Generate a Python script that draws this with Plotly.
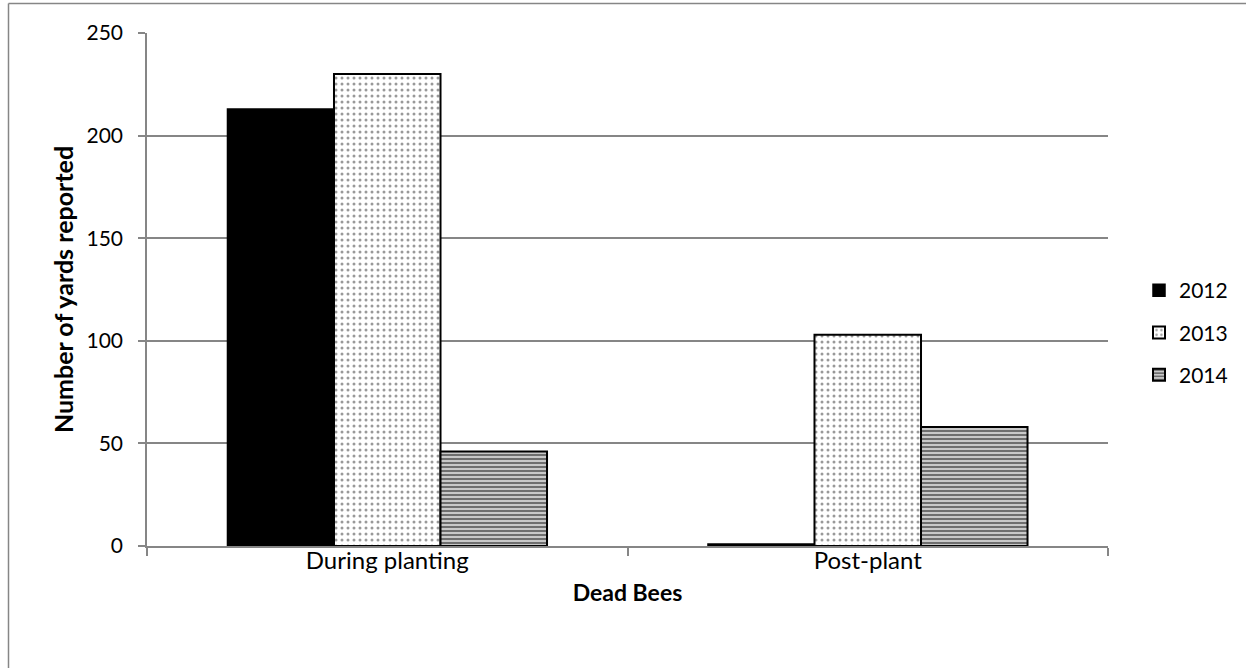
import plotly.graph_objects as go

categories = ["During planting", "Post-plant"]
years = ["2012", "2013", "2014"]
values_2012 = [213, 1]
values_2013 = [230, 103]
values_2014 = [46, 58]
y_ticks = [0, 50, 100, 150, 200, 250]

FONT = "Lato"
GRID = "#868686"

W, H = 1246, 668
ML, MR, MT, MB = 147, 138, 33, 122

fig = go.Figure()
fig.add_trace(go.Bar(
    name=years[0], x=categories, y=values_2012, legendgroup="a",
    marker=dict(color="black", line=dict(color="black", width=1.5)),
))
fig.add_trace(go.Bar(
    name=years[1], x=categories, y=values_2013, legendgroup="b",
    marker=dict(color="white", line=dict(color="black", width=2),
                pattern=dict(shape=".", fgcolor="#333333", bgcolor="white",
                             size=6, solidity=0.2)),
))
fig.add_trace(go.Bar(
    name=years[2], x=categories, y=values_2014, legendgroup="c",
    marker=dict(color="#b0b0b0", line=dict(color="black", width=2),
                pattern=dict(shape="-", fgcolor="black", bgcolor="#c8c8c8",
                             size=4, solidity=0.45)),
))

pw = W - ML - MR
ph = H - MT - MB
def px2paper_x(px):
    return (px - ML) / pw
def px2paper_y(py):
    return (H - MB - py) / ph

# outer chart-area frame (left and top edges visible)
fig.add_shape(type="line", xref="paper", yref="paper",
              x0=px2paper_x(8.5), x1=px2paper_x(8.5), y0=px2paper_y(700), y1=px2paper_y(3.5),
              line=dict(color=GRID, width=1.5))
fig.add_shape(type="line", xref="paper", yref="paper",
              x0=px2paper_x(8.5), x1=px2paper_x(1300), y0=px2paper_y(3.5), y1=px2paper_y(3.5),
              line=dict(color=GRID, width=1.5))

fig.update_layout(
    width=W, height=H,
    margin=dict(l=ML, r=MR, t=MT, b=MB, autoexpand=False),
    paper_bgcolor="white", plot_bgcolor="white",
    barmode="group", bargap=0.335, bargroupgap=0,
    font=dict(family=FONT, size=21, color="black"),
    showlegend=True,
    legend=dict(x=px2paper_x(1139), y=px2paper_y(270), xanchor="left", yanchor="top",
                font=dict(size=21), tracegroupgap=12, itemwidth=30),
    xaxis=dict(
        type="category", showline=True, linecolor=GRID, linewidth=1.5,
        ticks="outside", tickson="boundaries", ticklen=8, tickcolor=GRID, tickwidth=1.5,
        title=dict(text="<b>Dead Bees</b>", font=dict(size=23), standoff=12),
        tickfont=dict(size=24), showgrid=False, ticklabelstandoff=-8,
    ),
    yaxis=dict(
        range=[0, 250], tickvals=y_ticks, showline=True, linecolor=GRID, linewidth=1.5,
        ticks="outside", ticklen=7, tickcolor=GRID, tickwidth=1.5,
        showgrid=True, gridcolor=GRID, gridwidth=1.5, zeroline=False,
        title=dict(text="<b>Number of yards reported</b>", font=dict(size=25), standoff=6),
        tickfont=dict(size=21), ticklabelstandoff=11,
    ),
)

fig.write_html("out.html", config={"displayModeBar": False},
               post_script="document.body.style.margin='0';document.body.style.overflow='hidden';")
